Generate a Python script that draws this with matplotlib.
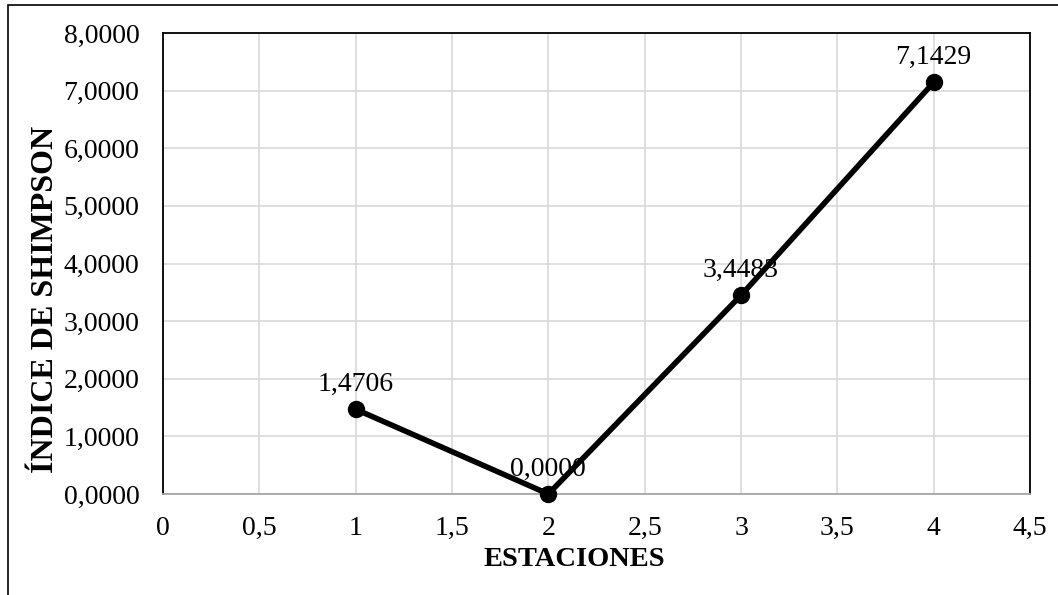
import matplotlib.pyplot as plt
from matplotlib.patches import Rectangle

# data
estaciones = [1, 2, 3, 4]
indice = [1.4706, 0.0, 3.4483, 7.1429]
etiquetas = ['1,4706', '0,0000', '3,4483', '7,1429']
x_ticks = [0, 0.5, 1, 1.5, 2, 2.5, 3, 3.5, 4, 4.5]
x_ticklabels = ['0', '0,5', '1', '1,5', '2', '2,5', '3', '3,5', '4', '4,5']
y_ticks = [0, 1, 2, 3, 4, 5, 6, 7, 8]
y_ticklabels = ['%d,0000' % v for v in y_ticks]

plt.rcParams['font.family'] = ['Liberation Serif', 'DejaVu Serif']

fig = plt.figure(figsize=(10.58, 5.95), dpi=100)
ax = fig.add_axes([163 / 1058, 1 - 494 / 595, (1030 - 163) / 1058, (494 - 33) / 595])

# outer chart border (cut at right and bottom like the screenshot)
fig.patches.append(Rectangle((8 / 1058, -0.1), 1.2, 1 - 5 / 595 + 0.1,
                             transform=fig.transFigure, fill=False,
                             edgecolor='black', linewidth=1.2))

ax.plot(estaciones, indice, color='black', linewidth=4,
        marker='o', markersize=11.5, zorder=3, clip_on=False)

for x, y, t in zip(estaciones, indice, etiquetas):
    ax.annotate(t, (x, y), xytext=(0, 9), textcoords='offset points',
                ha='center', va='bottom', fontsize=20, zorder=4)

ax.set_xlim(0, 4.5)
ax.set_ylim(0, 8)
ax.set_xticks(x_ticks)
ax.set_xticklabels(x_ticklabels)
ax.set_yticks(y_ticks)
ax.set_yticklabels(y_ticklabels)
ax.tick_params(axis='both', length=0, labelsize=20)
ax.tick_params(axis='x', pad=16)
ax.tick_params(axis='y', pad=17)

ax.grid(True, color='#d9d9d9', linewidth=1.2)
ax.set_axisbelow(True)

for s in ['left', 'top', 'right']:
    ax.spines[s].set_color('black')
    ax.spines[s].set_linewidth(1.3)
ax.spines['bottom'].set_color('#a6a6a6')
ax.spines['bottom'].set_linewidth(1.3)

# axis titles placed like in the original chart
fig.text(574 / 1058, 1 - 560 / 595, 'ESTACIONES', fontsize=20.5,
         fontweight='bold', ha='center', va='center')
fig.text(46 / 1058, 1 - 299 / 595, 'ÍNDICE DE SHIMPSON', fontsize=23,
         fontweight='bold', ha='center', va='center', rotation=90)

fig.savefig('out.png', dpi=100)
